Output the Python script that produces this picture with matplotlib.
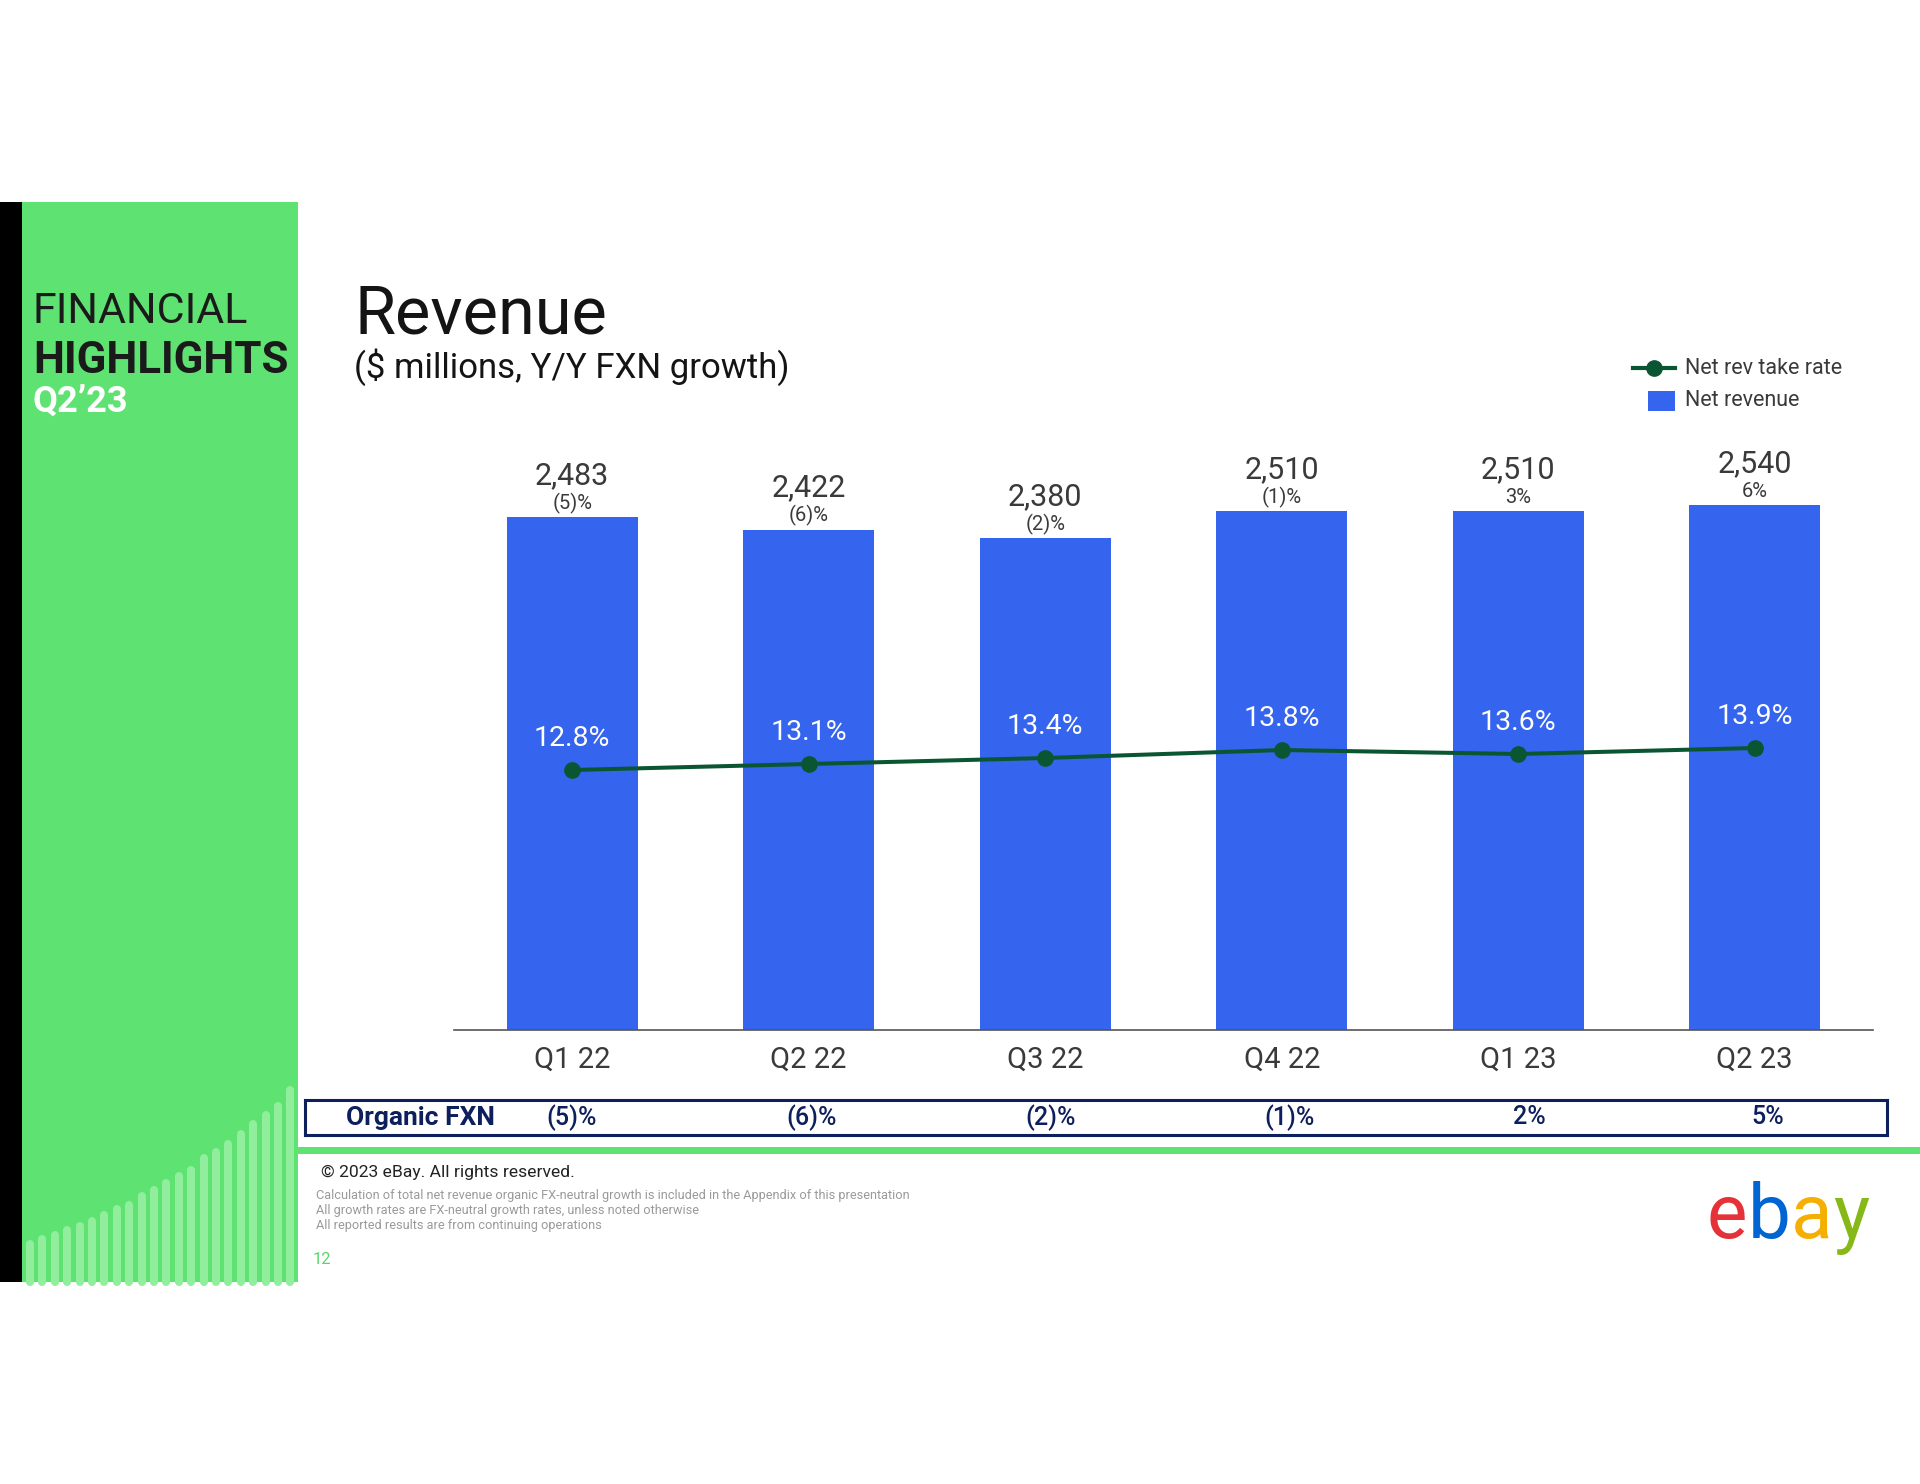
import matplotlib
matplotlib.use("Agg")
import matplotlib.pyplot as plt
from matplotlib.patches import Rectangle

plt.rcParams['font.family'] = ['Roboto', 'DejaVu Sans']

quarters = ["Q1 22", "Q2 22", "Q3 22", "Q4 22", "Q1 23", "Q2 23"]
net_revenue = [2483, 2422, 2380, 2510, 2510, 2540]
yoy_fxn_growth = ["(5)%", "(6)%", "(2)%", "(1)%", "3%", "6%"]
take_rate = [12.8, 13.1, 13.4, 13.8, 13.6, 13.9]
organic_fxn = ["(5)%", "(6)%", "(2)%", "(1)%", "2%", "5%"]

# decorative stripe tops in the green side panel (pixel rows)
stripe_tops = [1240, 1235, 1231, 1226, 1222, 1217, 1211, 1205, 1201, 1192, 1186,
               1179, 1172, 1166, 1154, 1148, 1140, 1130, 1120, 1111, 1102, 1086]

BLUE = "#3564ee"
DKGREEN = "#0b5632"
PANEL = "#5ee271"
STRIPE = "#90ee9c"
NAVY = "#0d1f5c"
GREY = "#3a3a3a"

W, H = 1920, 1484
fig = plt.figure(figsize=(W / 100, H / 100), dpi=100)

# background layer in pixel coordinates
bg = fig.add_axes([0, 0, 1, 1], zorder=0)
bg.set_xlim(0, W)
bg.set_ylim(H, 0)
bg.axis("off")

bg.add_patch(Rectangle((0, 202), 22, 1080, color="black", lw=0))
bg.add_patch(Rectangle((22, 202), 276, 1080, color=PANEL, lw=0))
for i, top in enumerate(stripe_tops):
    x = 30 + 12.4 * i
    bg.plot([x, x], [1282, top + 4], color=STRIPE, lw=5.8, solid_capstyle="round")
bg.add_patch(Rectangle((0, 1282), 300, 10, color="white", lw=0))

bg.text(33, 323, "FINANCIAL", fontsize=31, color="#1a1a1a", va="baseline")
bg.text(33, 373, "HIGHLIGHTS", fontsize=31.5, fontweight="bold", color="#1a1a1a", va="baseline")
bg.text(33, 412, "Q2\u201923", fontsize=26, fontweight="bold", color="white", va="baseline")

bg.text(355, 334, "Revenue", fontsize=48, color="#141414", va="baseline")
bg.text(354, 367, "($ millions, Y/Y FXN growth)", fontsize=25, color="#141414", va="center")

# legend
bg.plot([1633, 1675], [368, 368], color=DKGREEN, lw=3)
bg.plot([1654], [368], "o", color=DKGREEN, ms=11)
bg.add_patch(Rectangle((1648, 391), 27, 20, color=BLUE, lw=0))
bg.text(1685, 368, "Net rev take rate", fontsize=15.5, color=GREY, va="center")
bg.text(1685, 401, "Net revenue", fontsize=15.5, color=GREY, va="center")

# green rule and footer
bg.add_patch(Rectangle((298, 1146.5), W - 298, 7, color=PANEL, lw=0))
bg.text(321, 1172, "\u00a9 2023 eBay. All rights reserved.", fontsize=12.6, color="#222222", va="center")
notes = ["Calculation of total net revenue organic FX-neutral growth is included in the Appendix of this presentation",
         "All growth rates are FX-neutral growth rates, unless noted otherwise",
         "All reported results are from continuing operations"]
for k, line in enumerate(notes):
    bg.text(316, 1196 + 14.5 * k, line, fontsize=9.2, color="#9a9a9a", va="center")
bg.text(313, 1260, "12", fontsize=12, color="#5cd66b", va="center")

# ebay wordmark, letters placed by their advance widths so they just touch
for ch, x0, c in zip("ebay", [1707, 1748, 1791, 1833],
                     ["#e53238", "#0064d2", "#f5af02", "#86b817"]):
    bg.text(x0, 1238, ch, fontsize=55, color=c, va="baseline", ha="left")

# main chart
ax = fig.add_axes([454 / W, 1 - 1030 / H, (1873 - 454) / W, 630 / H], zorder=2)
ax.set_facecolor("none")
xs = list(range(len(quarters)))
ax.bar(xs, net_revenue, width=0.553, color=BLUE, zorder=2)
ax.set_xlim(-0.5, 5.5)
ax.set_ylim(0, 3049)
for s in ["top", "right", "left"]:
    ax.spines[s].set_visible(False)
ax.spines["bottom"].set_color("#555555")
ax.spines["bottom"].set_linewidth(1.2)
ax.set_yticks([])
ax.set_xticks(xs)
ax.set_xticklabels(quarters, fontsize=21, color=GREY)
ax.tick_params(axis="x", length=0, pad=11)

for x, v, g in zip(xs, net_revenue, yoy_fxn_growth):
    ax.annotate(f"{v:,}", (x, v), xytext=(0, 30), textcoords="offset points",
                ha="center", va="center", fontsize=22, color=GREY)
    ax.annotate(g, (x, v), xytext=(0, 10), textcoords="offset points",
                ha="center", va="center", fontsize=14.5, color=GREY)

ax2 = ax.twinx()
ax2.set_ylim(-0.2, 31.3)
ax2.axis("off")
ax2.plot(xs, take_rate, color=DKGREEN, lw=2.9, marker="o", ms=11, zorder=3)
for x, r in zip(xs, take_rate):
    ax2.annotate(f"{r:.1f}%", (x, r), xytext=(0, 23), textcoords="offset points",
                 ha="center", va="center", fontsize=20.5, color="white")

# organic FXN row
row = fig.add_axes([305 / W, 1 - 1135 / H, 1582 / W, 35 / H], zorder=2)
row.set_xlim(-1.116, 5.497)
row.set_ylim(0, 1)
row.set_xticks([])
row.set_yticks([])
for s in row.spines.values():
    s.set_color(NAVY)
    s.set_linewidth(2.2)
row.text(-0.635, 0.5, "Organic FXN", fontsize=19, fontweight="bold", color=NAVY,
         ha="center", va="center")
for x, t in zip(xs, organic_fxn):
    row.text(x, 0.5, t, fontsize=18, fontweight="medium", color=NAVY, ha="center", va="center")

fig.savefig("out.png", dpi=100)
